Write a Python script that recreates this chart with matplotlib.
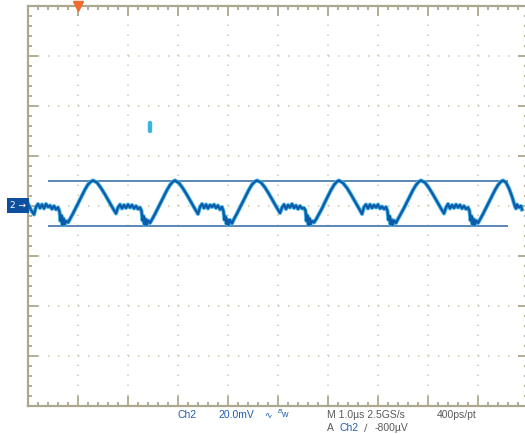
import numpy as np
import matplotlib.pyplot as plt
from matplotlib.ticker import MultipleLocator

plt.rcParams['font.family'] = ['Liberation Sans', 'DejaVu Sans']
plt.rcParams['lines.scale_dashes'] = False

# scope settings (1 us/div horizontal, 20 mV/div vertical)
t_lim = (-5.0, 5.0)      # us
v_lim = (-80.0, 80.0)    # mV

# Ch2 trace (time in us, voltage in mV)
t_us = [
    -5.00, -4.94, -4.88, -4.84, -4.80, -4.76, -4.72, -4.68, -4.64, -4.60, -4.56, -4.52, -4.48, -4.44, -4.40,
    -4.37, -4.35, -4.33, -4.31, -4.29, -4.27, -4.24, -4.20, -4.16, -4.10, -4.04, -3.98, -3.92, -3.86, -3.80, -3.74,
    -3.70, -3.62, -3.54, -3.46, -3.38, -3.30, -3.24, -3.20, -3.16, -3.12, -3.08, -3.04, -3.00, -2.96, -2.92,
    -2.88, -2.84, -2.80, -2.76, -2.73, -2.71, -2.69, -2.67, -2.65, -2.63, -2.60, -2.56, -2.52, -2.46, -2.40,
    -2.34, -2.28, -2.22, -2.16, -2.10,
    -2.06, -1.98, -1.90, -1.82, -1.74, -1.66, -1.60, -1.56, -1.52, -1.48, -1.44, -1.40, -1.36, -1.32, -1.28,
    -1.24, -1.20, -1.16, -1.12, -1.09, -1.07, -1.05, -1.03, -1.01, -0.99, -0.96, -0.92, -0.88, -0.82, -0.76,
    -0.70, -0.64, -0.58, -0.52, -0.46,
    -0.42, -0.34, -0.26, -0.18, -0.10, -0.02, 0.04, 0.08, 0.12, 0.16, 0.20, 0.24, 0.28, 0.32, 0.36,
    0.40, 0.44, 0.48, 0.52, 0.55, 0.57, 0.59, 0.61, 0.63, 0.65, 0.68, 0.72, 0.76, 0.82, 0.88,
    0.94, 1.00, 1.06, 1.12, 1.18,
    1.22, 1.30, 1.38, 1.46, 1.54, 1.62, 1.68, 1.72, 1.76, 1.80, 1.84, 1.88, 1.92, 1.96, 2.00,
    2.04, 2.08, 2.12, 2.16, 2.19, 2.21, 2.23, 2.25, 2.27, 2.29, 2.32, 2.36, 2.40, 2.46, 2.52,
    2.58, 2.64, 2.70, 2.76, 2.82,
    2.86, 2.94, 3.02, 3.10, 3.18, 3.26, 3.32, 3.36, 3.40, 3.44, 3.48, 3.52, 3.56, 3.60, 3.64,
    3.68, 3.72, 3.76, 3.80, 3.83, 3.85, 3.87, 3.89, 3.91, 3.93, 3.96, 4.00, 4.04, 4.10, 4.16,
    4.22, 4.28, 4.34, 4.40, 4.46,
    4.50, 4.56, 4.62, 4.68, 4.74, 4.76, 4.78, 4.82, 4.86, 4.88,
]
v_mv = [
    0.8, -1.8, -3.6, -0.6, 0.6, -1.0, 0.4, -1.2, 0.6, -0.6, 0.0, -1.4, -0.2, -1.6, -0.8,
    -2.4, -6.2, -4.0, -7.8, -5.2, -7.6, -6.2, -6.8, -5.4, -3.2, -0.8, 1.6, 4.0, 6.4, 8.4, 9.6,
    10.0, 9.2, 7.0, 4.4, 1.6, -1.2, -3.2, -0.8, 0.4, -1.2, 0.2, -1.0, 0.4, -0.8, 0.2,
    -1.2, -0.2, -1.4, -0.8, -2.2, -6.0, -4.2, -7.6, -5.4, -7.8, -6.0, -7.0, -5.6, -3.4, -1.0,
    1.4, 3.8, 6.2, 8.2, 9.6,
    10.0, 9.0, 6.8, 4.2, 1.4, -1.4, -3.4, -0.6, 0.6, -1.0, 0.4, -1.2, 0.2, -0.6, 0.4,
    -1.0, 0.0, -1.6, -0.6, -2.4, -5.8, -4.4, -7.4, -5.6, -7.8, -5.8, -7.2, -5.4, -3.2, -0.8,
    1.6, 4.0, 6.4, 8.4, 9.6,
    10.0, 9.2, 7.2, 4.6, 1.8, -1.0, -3.0, -0.8, 0.4, -1.4, 0.2, -0.8, 0.6, -1.0, 0.0,
    -1.4, -0.2, -1.2, -1.0, -2.0, -6.2, -4.0, -7.8, -5.2, -7.6, -6.2, -6.8, -5.6, -3.4, -1.2,
    1.4, 3.8, 6.2, 8.2, 9.6,
    10.0, 9.0, 7.0, 4.4, 1.6, -1.2, -3.4, -0.6, 0.4, -1.2, 0.4, -1.0, 0.2, -0.8, 0.4,
    -1.2, -0.4, -1.4, -0.6, -2.2, -5.8, -4.2, -7.6, -5.6, -7.8, -6.0, -7.0, -5.4, -3.2, -1.0,
    1.4, 3.8, 6.2, 8.2, 9.6,
    10.0, 9.2, 7.0, 4.4, 1.6, -1.2, -3.2, -0.8, 0.6, -1.2, 0.2, -1.0, 0.4, -0.8, 0.2,
    -1.2, -0.2, -1.4, -0.8, -2.2, -6.0, -4.2, -7.6, -5.4, -7.8, -6.0, -7.0, -5.6, -3.4, -1.0,
    1.4, 3.8, 6.2, 8.2, 9.6,
    10.0, 9.2, 6.8, 3.6, -0.4, -1.2, 0.4, -0.8, -0.2, -1.6,
]

# cursors
cursor_hi = 10.0
cursor_lo = -8.0
cursor_t = (-4.6, 4.6)

trig_t = -4.0          # trigger position marker
cyan_mark_t = -2.56    # small cyan marker
cyan_mark_v = (30.0, 33.2)

frame_col = '#aca78e'
dot_col = '#cdc9b0'
blue_txt = '#1f5fae'
gray_txt = '#5a5a5a'

fig = plt.figure(figsize=(5.25, 4.34), dpi=100)
ax = fig.add_axes([28 / 525, 28.5 / 434, 500 / 525, 400 / 434])
ax.set_xlim(*t_lim)
ax.set_ylim(*v_lim)

ax.xaxis.set_major_locator(MultipleLocator(1))
ax.xaxis.set_minor_locator(MultipleLocator(0.2))
ax.yaxis.set_major_locator(MultipleLocator(20))
ax.yaxis.set_minor_locator(MultipleLocator(4))
ax.tick_params(which='both', direction='in', top=True, right=True, color=frame_col,
               labelbottom=False, labelleft=False)
ax.tick_params(which='major', length=7.2, width=1.3)
ax.tick_params(which='minor', length=3.0, width=1.3)
for s in ax.spines.values():
    s.set_color(frame_col)
    s.set_linewidth(1.6)

ax.grid(True, which='major', color=dot_col, linewidth=1.2, linestyle=(0, (1.0, 6.2)))
ax.set_axisbelow(True)

# cursors
ax.hlines([cursor_hi, cursor_lo], *cursor_t, color='#5b86b6', linewidth=1.4, zorder=2)

# trace
ax.plot(t_us, v_mv, color='#45b6e6', linewidth=2.9, solid_joinstyle='round', zorder=3)
ax.plot(t_us, v_mv, color='#0d5aa8', linewidth=1.6, solid_joinstyle='round', zorder=4)

# markers
ax.plot([cyan_mark_t, cyan_mark_t], cyan_mark_v, color='#3cb4e0', linewidth=3.2,
        solid_capstyle='round', zorder=4)
ax.plot([trig_t], [v_lim[1]], marker='v', color='#f26b2e', markersize=7, clip_on=False, zorder=6)

ax.annotate('2 \u2192', xy=(-0.004, 0), xycoords=('axes fraction', 'data'), ha='right', va='center',
            fontsize=6.5, color='white', family=['DejaVu Sans'],
            bbox=dict(boxstyle='square,pad=0.35', fc='#0c4f9e', ec='none'), annotation_clip=False)

# status line
fs = 7.5
fig.text(178 / 525, 1 - 415 / 434, 'Ch2', color=blue_txt, fontsize=fs, va='center')
fig.text(218 / 525, 1 - 415 / 434, '20.0mV', color=blue_txt, fontsize=fs, va='center')
fig.text(264 / 525, 1 - 415 / 434, '\u223f', color=blue_txt, fontsize=fs - 1, va='center',
         family=['DejaVu Sans'])
fig.text(277 / 525, 1 - 414 / 434, '$^{B}$w', color=blue_txt, fontsize=fs - 1, va='center')
fig.text(327 / 525, 1 - 415 / 434, 'M 1.0\u00b5s 2.5GS/s', color=gray_txt, fontsize=fs, va='center')
fig.text(437 / 525, 1 - 415 / 434, '400ps/pt', color=gray_txt, fontsize=fs, va='center')
fig.text(327 / 525, 1 - 428 / 434, 'A', color=gray_txt, fontsize=fs, va='center')
fig.text(340 / 525, 1 - 428 / 434, 'Ch2', color=blue_txt, fontsize=fs, va='center')
fig.text(364 / 525, 1 - 428 / 434, '\u2215', color=gray_txt, fontsize=fs, va='center',
         family=['DejaVu Sans'])
fig.text(375 / 525, 1 - 428 / 434, '-800\u00b5V', color=gray_txt, fontsize=fs, va='center')

fig.savefig('out.png', dpi=100)
